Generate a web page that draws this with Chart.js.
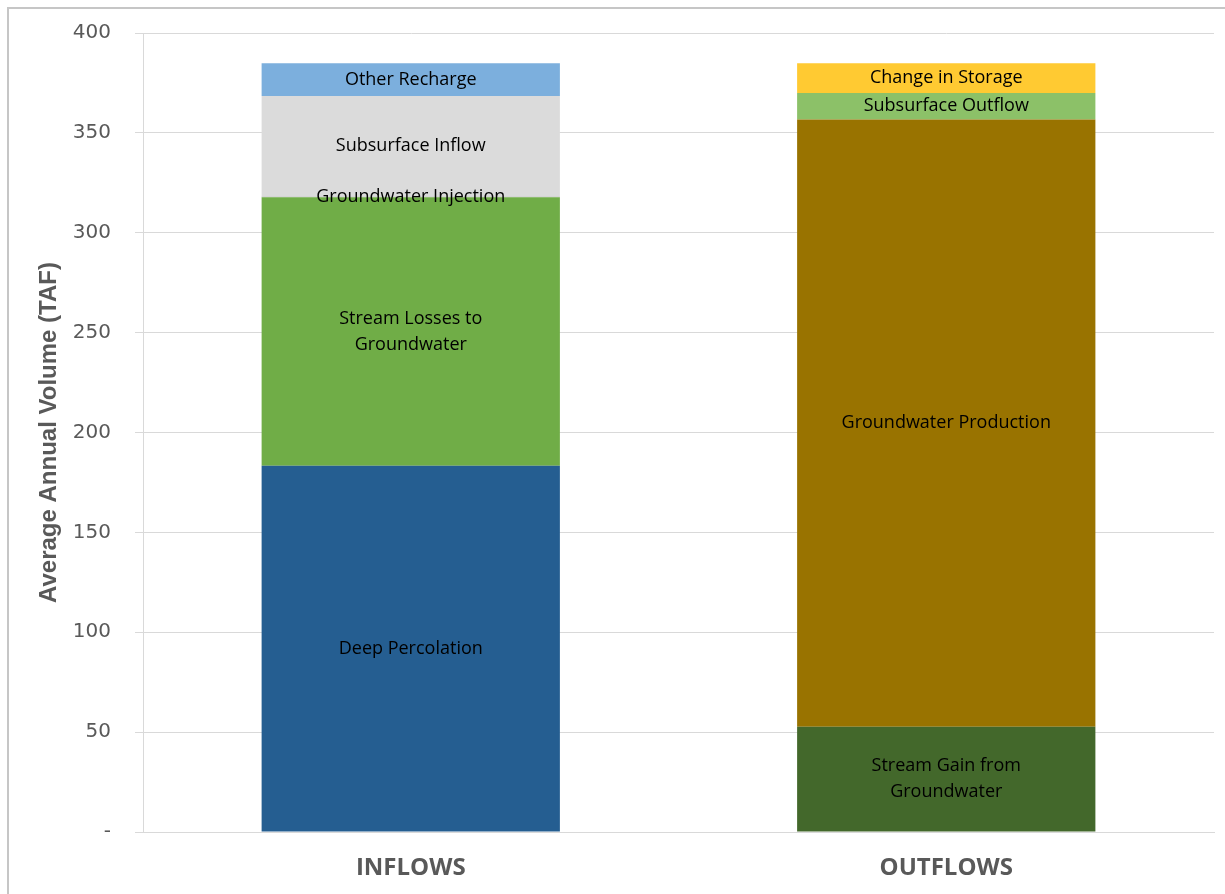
<!DOCTYPE html>
<html><head><meta charset="utf-8">
<script src="https://cdn.jsdelivr.net/npm/chart.js@4.4.0/dist/chart.umd.min.js"></script>
<style>
html,body{margin:0;padding:0;background:#fff;overflow:hidden;}
#wrap{position:absolute;left:0;top:-3px;width:1225px;height:897px;}
#frame{position:absolute;left:7px;top:7px;width:1240px;height:920px;border:2px solid #c6c6c6;box-sizing:border-box;pointer-events:none;}
</style></head>
<body>
<div id="wrap"><canvas id="c" width="1225" height="897"></canvas></div>
<div id="frame"></div>
<script>
const categories = ["INFLOWS", "OUTFLOWS"];
const yTickLabels = ["-", "50", "100", "150", "200", "250", "300", "350", "400"];
const seriesNames = ["Deep Percolation", "Stream Losses to Groundwater", "Groundwater Injection", "Subsurface Inflow", "Other Recharge",
                     "Stream Gain from Groundwater", "Groundwater Production", "Subsurface Outflow", "Change in Storage"];
const deepPercolation   = [183.4, null];
const streamLosses      = [134.4, null];
const gwInjection       = [0.4, null];
const subsurfaceInflow  = [50.3, null];
const otherRecharge     = [16.3, null];
const streamGain        = [null, 52.7];
const gwProduction      = [null, 304.0];
const subsurfaceOutflow = [null, 13.3];
const changeInStorage   = [null, 14.8];

const seriesValues = [deepPercolation, streamLosses, gwInjection, subsurfaceInflow, otherRecharge,
                      streamGain, gwProduction, subsurfaceOutflow, changeInStorage];
const colors = ["#255E91", "#70AD47", "#BDBDBD", "#DBDBDB", "#7CAFDD", "#43682B", "#997300", "#8CC168", "#FFCA32"];
const labelLines = [["Deep Percolation"], ["Stream Losses to", "Groundwater"], ["Groundwater Injection"], ["Subsurface Inflow"], ["Other Recharge"],
                    ["Stream Gain from", "Groundwater"], ["Groundwater Production"], ["Subsurface Outflow"], ["Change in Storage"]];

const labelFont = '18px "Open Sans", sans-serif';

const segLabels = {
  id: 'segLabels',
  afterDatasetsDraw(chart) {
    const ctx = chart.ctx;
    ctx.save();
    ctx.font = labelFont;
    ctx.fillStyle = '#000';
    ctx.textAlign = 'center';
    ctx.textBaseline = 'middle';
    chart.data.datasets.forEach((ds, di) => {
      const meta = chart.getDatasetMeta(di);
      meta.data.forEach((bar, i) => {
        if (ds.data[i] == null) return;
        const p = bar.getProps(['x', 'y', 'base'], true);
        const cy = (p.y + p.base) / 2;
        const lines = labelLines[di];
        const lh = 26;
        lines.forEach((t, li) => {
          ctx.fillText(t, p.x, cy + (li - (lines.length - 1) / 2) * lh);
        });
      });
    });
    ctx.restore();
  }
};

new Chart(document.getElementById('c'), {
  type: 'bar',
  data: {
    labels: categories,
    datasets: seriesNames.map((n, i) => ({
      label: n,
      data: seriesValues[i],
      backgroundColor: colors[i],
      borderWidth: 0,
      barPercentage: 0.557,
      categoryPercentage: 1.0
    }))
  },
  options: {
    responsive: false,
    animation: false,
    layout: { padding: { left: 0, right: 11, top: 30, bottom: 0 } },
    plugins: { legend: { display: false }, tooltip: { enabled: false } },
    scales: {
      x: {
        stacked: true,
        grid: { display: false, drawTicks: false },
        border: { display: true, color: '#d9d9d9', width: 1 },
        ticks: { color: '#595959', padding: 22, font: { family: '"Open Sans", sans-serif', size: 24, weight: 'bold' } },
        afterFit(s) { s.height = 62; }
      },
      y: {
        stacked: true,
        min: 0, max: 400,
        grid: { color: '#d9d9d9', tickLength: 8, lineWidth: 1 },
        border: { display: true, color: '#d9d9d9', width: 1 },
        ticks: {
          stepSize: 50, padding: 24, color: '#595959',
          font: { family: 'DejaVu Sans', size: 20 },
          callback: (v, idx) => yTickLabels[idx]
        },
        title: {
          display: true, text: 'Average Annual Volume (TAF)', color: '#595959',
          font: { family: '"Liberation Sans", Arial, sans-serif', size: 24, weight: 'bold' },
          padding: { top: 35, bottom: 0 }
        },
        afterFit(s) { s.width = 143; }
      }
    }
  },
  plugins: [segLabels]
});
</script>
</body></html>
